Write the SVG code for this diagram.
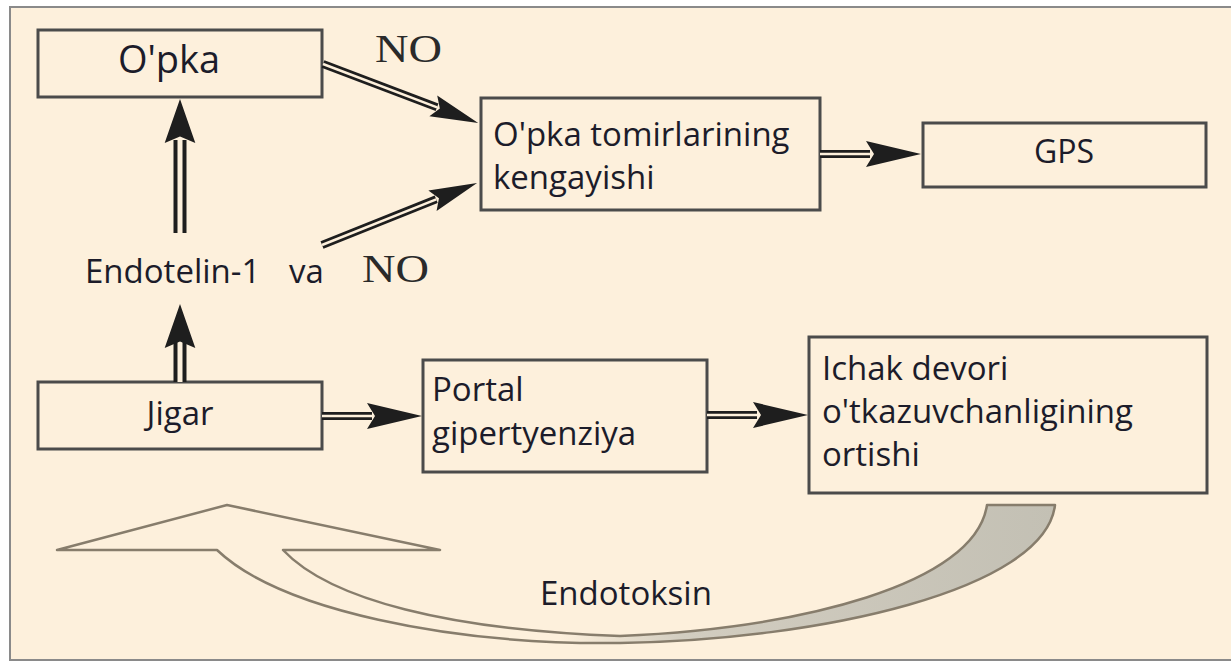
<svg xmlns="http://www.w3.org/2000/svg" width="1231" height="663" viewBox="0 0 1231 663">
<style>
.box{fill:#fdf0dc;stroke:#4b4b4b;stroke-width:3}
.t{font-family:"Open Sans","Noto Sans",sans-serif;font-size:33px;fill:#1c1c2a}
.no{font-family:"Liberation Serif","Times New Roman",serif;font-size:40px;fill:#2a2a2a}
.sh{stroke:#1e1e1e;stroke-width:8;fill:none}
.si{stroke:#fdf0dc;stroke-width:2.5;fill:none}
.vsh{stroke:#1e1e1e;stroke-width:13;fill:none}
.vsi{stroke:#fdf0dc;stroke-width:5;fill:none}
.hd{fill:#1e1e1e}
</style>
<defs>
<path id="head" d="M0,0 L-55,-13 L-47,0 L-55,13 Z"/>
<linearGradient id="gr" x1="560" y1="0" x2="1055" y2="0" gradientUnits="userSpaceOnUse">
<stop offset="0" stop-color="#fdf0dc"/>
<stop offset="0.25" stop-color="#d2cdc0"/>
<stop offset="1" stop-color="#c3c0b4"/>
</linearGradient>
</defs>
<rect x="0" y="0" width="1231" height="663" fill="#ffffff"/>
<rect x="10" y="7" width="1235" height="653" fill="#fdf0dc" stroke="#8a8a8a" stroke-width="2"/>

<g id="endotoksin-arrow">
<path d="M57,550 L227,505 L440,550 L283,550 C330,600 450,630 620,636 C800,628 975,585 987,505 L1055,505 C1045,590 820,640 620,643 C450,645 280,610 217,550 Z" fill="#fdf0dc"/>
<path d="M560,633 C580,635 600,636 620,636 C800,628 975,585 987,505 L1055,505 C1045,590 820,640 620,643 C600,643 580,642 560,640 Z" fill="url(#gr)"/>
<path d="M57,550 L227,505 L440,550 L283,550 C330,600 450,630 620,636 C800,628 975,585 987,505 L1055,505 C1045,590 820,640 620,643 C450,645 280,610 217,550 Z" fill="none" stroke="#877d6c" stroke-width="2.5" stroke-linejoin="round"/>
<text class="t" x="540" y="605">Endotoksin</text>
</g>

<g id="opka">
<rect class="box" x="38" y="30" width="284" height="67"/>
<text class="t" x="169" y="73" text-anchor="middle" style="font-size:38px">O'pka</text>
</g>
<g id="tomirlar">
<rect class="box" x="481" y="98" width="339" height="112"/>
<text class="t" x="493" y="146">O'pka tomirlarining</text>
<text class="t" x="493" y="189">kengayishi</text>
</g>
<g id="gps">
<rect class="box" x="923" y="123" width="283" height="64"/>
<text class="t" x="1064" y="163" text-anchor="middle" style="font-size:32px">GPS</text>
</g>
<g id="endotelin">
<text class="t" x="85" y="283">Endotelin-1</text>
<text class="t" x="289" y="283">va</text>
</g>
<g id="jigar">
<rect class="box" x="38" y="382" width="284" height="67"/>
<text class="t" x="180" y="425" text-anchor="middle">Jigar</text>
</g>
<g id="portal">
<rect class="box" x="423" y="360" width="284" height="112"/>
<text class="t" x="432" y="401">Portal</text>
<text class="t" x="432" y="445">gipertyenziya</text>
</g>
<g id="ichak">
<rect class="box" x="809" y="337" width="398" height="156"/>
<text class="t" x="822" y="380">Ichak devori</text>
<text class="t" x="822" y="423">o'tkazuvchanligining</text>
<text class="t" x="822" y="466">ortishi</text>
</g>
<g id="labels">
<text class="no" x="375" y="62" textLength="67" lengthAdjust="spacingAndGlyphs">NO</text>
<text class="no" x="362" y="282" textLength="67" lengthAdjust="spacingAndGlyphs">NO</text>
</g>

<g id="connectors">
<g>
<line class="vsh" x1="180" y1="233" x2="180" y2="140"/>
<line class="vsi" x1="180" y1="233" x2="180" y2="140"/>
<use href="#head" class="hd" transform="translate(180,99) rotate(-90) scale(0.8,1.18)"/>
</g>
<g>
<line class="vsh" x1="180" y1="382" x2="180" y2="342"/>
<line class="vsi" x1="180" y1="382" x2="180" y2="342"/>
<use href="#head" class="hd" transform="translate(180,304) rotate(-90) scale(0.8,1.18)"/>
</g>
<g transform="translate(323,64) rotate(20.8)">
<line class="sh" x1="0" y1="0" x2="122" y2="0"/>
<line class="si" x1="0" y1="0" x2="122" y2="0"/>
<use href="#head" class="hd" transform="translate(166,0) scale(0.873,0.85)"/>
</g>
<g transform="translate(322,245) rotate(-21.8)">
<line class="sh" x1="0" y1="0" x2="123" y2="0"/>
<line class="si" x1="0" y1="0" x2="123" y2="0"/>
<use href="#head" class="hd" transform="translate(167,0) scale(0.873,0.85)"/>
</g>
<g>
<line class="sh" x1="820" y1="154" x2="870" y2="154"/>
<line class="si" x1="820" y1="154" x2="870" y2="154"/>
<use href="#head" class="hd" transform="translate(921,154)"/>
</g>
<g>
<line class="sh" x1="322" y1="416" x2="372" y2="416"/>
<line class="si" x1="322" y1="416" x2="372" y2="416"/>
<use href="#head" class="hd" transform="translate(422,416)"/>
</g>
<g>
<line class="sh" x1="707" y1="415" x2="757" y2="415"/>
<line class="si" x1="707" y1="415" x2="757" y2="415"/>
<use href="#head" class="hd" transform="translate(808,415)"/>
</g>
</g>
</svg>
